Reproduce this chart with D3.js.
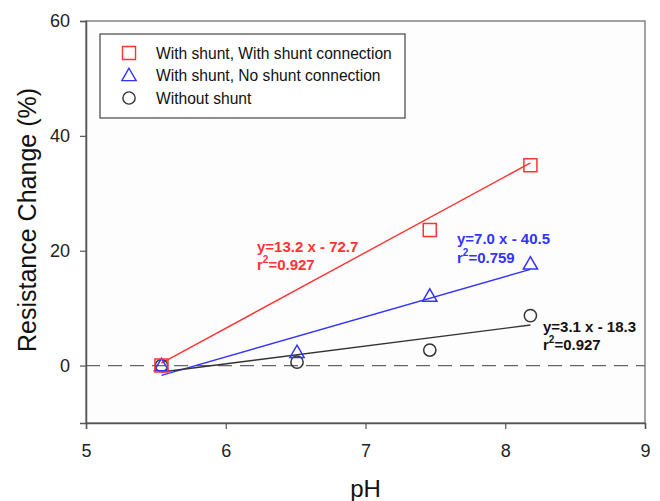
<!DOCTYPE html>
<html><head><meta charset="utf-8">
<script src="https://cdn.jsdelivr.net/npm/d3@7"></script>
<style>body{margin:0;background:#fff}svg{display:block}text{font-family:Arial,"Liberation Sans",sans-serif}</style>
</head><body>
<script>
const seriesNames = ["With shunt, With shunt connection", "With shunt, No shunt connection", "Without shunt"];
const phRed = [5.54, 7.46, 8.18];
const valRed = [0, 23.6, 34.9];
const phBlue = [5.54, 6.51, 7.46, 8.18];
const valBlue = [0, 2.3, 12.1, 17.7];
const phBlack = [5.54, 6.51, 7.46, 8.18];
const valBlack = [0, 0.6, 2.7, 8.7];
const slopes = [13.2, 7.0, 3.1];
const intercepts = [-72.7, -40.5, -18.3];
const eqLabels = ["y=13.2 x - 72.7", "y=7.0 x - 40.5", "y=3.1 x - 18.3"];
const r2Labels = ["=0.927", "=0.759", "=0.927"];
const xTicks = [5, 6, 7, 8, 9];
const yTicks = [0, 20, 40, 60];

const W = 660, H = 501;
const m = {l: 86, t: 21, r: 15, b: 78};
const colors = ["#ff3333", "#3333ff", "#333333"];
const textColors = ["#ff3333", "#3333ff", "#111111"];
const svg = d3.select("body").append("svg").attr("width", W).attr("height", H);
const x = d3.scaleLinear().domain([5, 9]).range([m.l, W - m.r]);
const y = d3.scaleLinear().domain([-10, 60]).range([H - m.b, m.t]);

svg.append("rect").attr("x", x(5)).attr("y", y(60)).attr("width", x(9) - x(5)).attr("height", y(-10) - y(60))
  .attr("fill", "#fdfdfd").attr("stroke", "#666").attr("stroke-width", 1.2);

// zero dashed line
svg.append("line").attr("x1", x(5)).attr("x2", x(9)).attr("y1", y(0)).attr("y2", y(0))
  .attr("stroke", "#666").attr("stroke-width", 1.2).attr("stroke-dasharray", "14,8");

const xa = svg.append("g").attr("transform", `translate(0,${y(-10)})`)
  .call(d3.axisBottom(x).tickValues(xTicks).tickSize(6).tickPadding(15).tickFormat(d3.format("d")));
const ya = svg.append("g").attr("transform", `translate(${x(5)},0)`)
  .call(d3.axisLeft(y).tickValues(yTicks).tickSize(6).tickPadding(10).tickFormat(d3.format("d")));
[xa, ya].forEach(a => {
  a.select(".domain").attr("stroke", "#555").attr("stroke-width", 1.5);
  a.selectAll(".tick line").attr("stroke", "#555").attr("stroke-width", 1.2);
  a.selectAll(".tick text").attr("fill", "#222").style("font-size", "18px").style("font-family", "Arial, 'Liberation Sans', sans-serif");
});

// fit lines
const allX = [phRed, phBlue, phBlack];
slopes.forEach((s, i) => {
  const [x0, x1] = d3.extent(allX[i]);
  svg.append("line").attr("x1", x(x0)).attr("x2", x(x1))
    .attr("y1", y(s * x0 + intercepts[i])).attr("y2", y(s * x1 + intercepts[i]))
    .attr("stroke", colors[i]).attr("stroke-width", 1.4);
});

const symTypes = [d3.symbolSquare, d3.symbolTriangle, d3.symbolCircle];
const symSizes = [170, 88, 118];
const symOff = [0, 1, 0];

function drawPts(xs, ys, i) {
  svg.append("g").selectAll("path").data(xs).join("path")
    .attr("d", d3.symbol().type(symTypes[i]).size(symSizes[i])())
    .attr("transform", (d, j) => `translate(${x(d)},${y(ys[j]) + symOff[i]})`)
    .attr("fill", "none").attr("stroke", colors[i]).attr("stroke-width", 1.5);
}
drawPts(phBlack, valBlack, 2);
drawPts(phBlue, valBlue, 1);
drawPts(phRed, valRed, 0);

// equations
const eqPos = [[257, 252, 270], [457, 244, 263], [543, 332, 350]];
eqLabels.forEach((t, i) => {
  const [ex, ey, ry] = eqPos[i];
  svg.append("text").attr("x", ex).attr("y", ey).attr("fill", textColors[i])
    .style("font-size", "15px").style("font-weight", "bold").text(t);
  const r = svg.append("text").attr("x", ex).attr("y", ry).attr("fill", textColors[i])
    .style("font-size", "15px").style("font-weight", "bold");
  r.append("tspan").text("r");
  r.append("tspan").attr("dy", -7).style("font-size", "10px").text("2");
  r.append("tspan").attr("dy", 7).text(r2Labels[i]);
});

// legend
svg.append("rect").attr("x", 100).attr("y", 34).attr("width", 305).attr("height", 84)
  .attr("fill", "#fff").attr("stroke", "#444").attr("stroke-width", 1.2);
seriesNames.forEach((n, i) => {
  const ly = 53 + i * 22.5;
  svg.append("path").attr("d", d3.symbol().type(symTypes[i]).size(symSizes[i])())
    .attr("transform", `translate(129,${ly + symOff[i]})`).attr("fill", "none").attr("stroke", colors[i]).attr("stroke-width", 1.4);
  svg.append("text").attr("x", 156).attr("y", ly + 5.5).attr("fill", "#111").style("font-size", "15.6px").text(n);
});

// axis titles
svg.append("text").attr("x", x(7)).attr("y", 497).attr("text-anchor", "middle").attr("fill", "#111")
  .style("font-size", "24px").text("pH");
svg.append("text").attr("transform", `translate(36,220) rotate(-90)`).attr("text-anchor", "middle")
  .attr("fill", "#111").style("font-size", "25px").text("Resistance Change (%)");
</script>
</body></html>
